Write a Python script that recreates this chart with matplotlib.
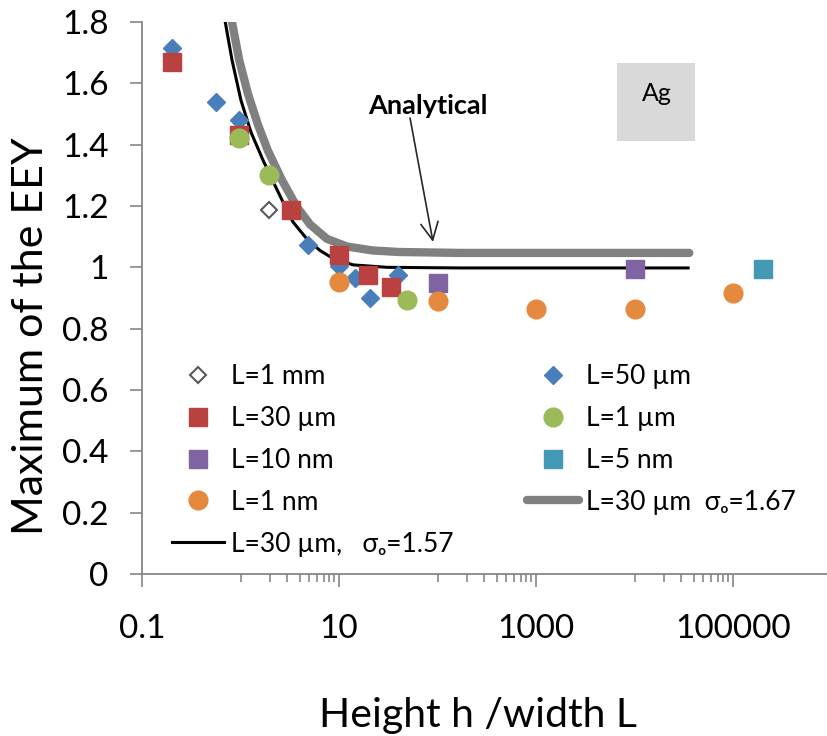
import matplotlib
matplotlib.use("Agg")
import matplotlib.pyplot as plt
from matplotlib.patches import Rectangle

plt.rcParams["font.family"] = ["Lato", "DejaVu Sans"]

# values (h/L, maximum EEY)
h_1mm = [1.95]
eey_1mm = [1.187]

h_50um = [0.2, 0.56, 0.97, 4.8, 10, 14.5, 20.7, 40]
eey_50um = [1.715, 1.54, 1.48, 1.073, 1.005, 0.965, 0.90, 0.975]

h_30um = [0.2, 0.97, 3.26, 10, 19.7, 33.7]
eey_30um = [1.67, 1.43, 1.187, 1.04, 0.975, 0.936]

h_1um = [0.97, 1.95, 49]
eey_1um = [1.422, 1.30, 0.893]

h_10nm = [100, 10000]
eey_10nm = [0.949, 0.994]

h_5nm = [2.0e5]
eey_5nm = [0.994]

h_1nm = [10, 100, 1000, 10000, 100000]
eey_1nm = [0.952, 0.89, 0.864, 0.864, 0.916]

# analytical curves
h_an157 = [0.70, 0.82, 1.01, 1.28, 1.69, 2.14, 2.70, 3.41, 4.73, 6.41, 8.69, 13.9, 30.7, 170, 35000]
eey_an157 = [1.80, 1.676, 1.545, 1.44, 1.35, 1.28, 1.213, 1.148, 1.092, 1.055, 1.029, 1.008, 1.0, 0.998, 0.998]

h_an167 = [0.82, 0.97, 1.19, 1.50, 1.90, 2.63, 3.74, 5.08, 7.53, 12.0, 21.9, 41, 170, 36000]
eey_an167 = [1.80, 1.676, 1.566, 1.466, 1.38, 1.285, 1.197, 1.14, 1.093, 1.068, 1.055, 1.050, 1.047, 1.047]

xticks = [0.1, 10, 1000, 100000]
xtick_labels = ["0.1", "10", "1000", "100000"]
xminor = [k * 10 ** e for e in (0, 2, 4) for k in range(1, 10)]
yticks = [0, 0.2, 0.4, 0.6, 0.8, 1.0, 1.2, 1.4, 1.6, 1.8]

fig = plt.figure(figsize=(8.27, 7.36), dpi=100)
ax = fig.add_axes([142 / 827, 162 / 736, 689.5 / 827, 552 / 736])

# lines under the markers
l167, = ax.plot(h_an167, eey_an167, color="#808080", lw=6, solid_capstyle="round",
                solid_joinstyle="round", zorder=2)
l157, = ax.plot(h_an157, eey_an157, color="black", lw=2.2, solid_joinstyle="round", zorder=2.5)

p50, = ax.plot(h_50um, eey_50um, ls="none", marker="D", ms=9.5, color="#4A7EBB", zorder=3)
p30, = ax.plot(h_30um, eey_30um, ls="none", marker="s", ms=13, color="#B9413F", zorder=4)
p1u, = ax.plot(h_1um, eey_1um, ls="none", marker="o", ms=13.5, color="#9BBB59", zorder=5)
p1mm, = ax.plot(h_1mm, eey_1mm, ls="none", marker="D", ms=8.5, mfc="white", mec="#595959",
                mew=1.5, zorder=5)
p10n, = ax.plot(h_10nm, eey_10nm, ls="none", marker="s", ms=13, color="#8064A2", zorder=5)
p1n, = ax.plot(h_1nm, eey_1nm, ls="none", marker="o", ms=13.5, color="#E5893F", zorder=6)
p5n, = ax.plot(h_5nm, eey_5nm, ls="none", marker="s", ms=13, color="#4399B5", zorder=6)

ax.set_xscale("log")
ax.set_xlim(0.1, 1e6)
ax.set_ylim(0, 1.8)
ax.set_xticks(xticks)
ax.set_xticklabels(xtick_labels)
ax.set_xticks(xminor, minor=True)
ax.set_xticklabels([], minor=True)
ax.set_yticks(yticks)
ax.set_yticklabels([f"{v:g}" for v in yticks])

for s in ("top", "right"):
    ax.spines[s].set_visible(False)
for s in ("left", "bottom"):
    ax.spines[s].set_color("#868686")
    ax.spines[s].set_linewidth(1.3)

ax.tick_params(axis="both", which="major", direction="out", length=9, width=1.2,
               color="#868686", labelsize=24, labelcolor="black")
ax.tick_params(axis="x", which="major", pad=20)
ax.tick_params(axis="y", which="major", pad=15)
ax.tick_params(axis="x", which="minor", direction="out", length=6, width=1.2, color="#868686")

fig.text(478 / 827, 9 / 736, "Height h /width L", fontsize=29.5, ha="center", va="baseline")
fig.text(31 / 827, 1 - 336 / 736, "Maximum of the EEY", fontsize=31, rotation=90,
         ha="center", va="center")

# annotation
ax.text(80, 1.526, "Analytical", fontsize=19.5, fontweight="bold", ha="center", va="center")
ax.annotate("", xy=(90, 1.083), xytext=(52.6, 1.487),
            arrowprops=dict(arrowstyle="->,head_length=0.7,head_width=0.35", color="#262626",
                            lw=1.2, mutation_scale=18, shrinkA=0, shrinkB=0))

ax.add_patch(Rectangle((0.689, 0.784), 0.113, 0.141, transform=ax.transAxes,
                       facecolor="#D9D9D9", edgecolor="none", zorder=1))
ax.text(0.747, 0.871, "Ag", transform=ax.transAxes, fontsize=18, ha="center", va="center")

leg_kw = dict(loc="upper left", bbox_transform=fig.transFigure, frameon=False, borderpad=0,
              borderaxespad=0, handlelength=1.97, handletextpad=0.27, labelspacing=0.64,
              fontsize=19, numpoints=1)
leg1 = ax.legend([p1mm, p30, p10n, p1n, l157],
                 ["L=1 mm", "L=30 µm", "L=10 nm", "L=1 nm", "L=30 µm,   σₒ=1.57"],
                 bbox_to_anchor=(172 / 827, 1 - 364 / 736), **leg_kw)
ax.add_artist(leg1)
ax.legend([p50, p1u, p5n, l167],
          ["L=50 µm", "L=1 µm", "L=5 nm", "L=30 µm  σₒ=1.67"],
          bbox_to_anchor=(527 / 827, 1 - 364 / 736), **leg_kw)

fig.savefig("out.png", dpi=100)
